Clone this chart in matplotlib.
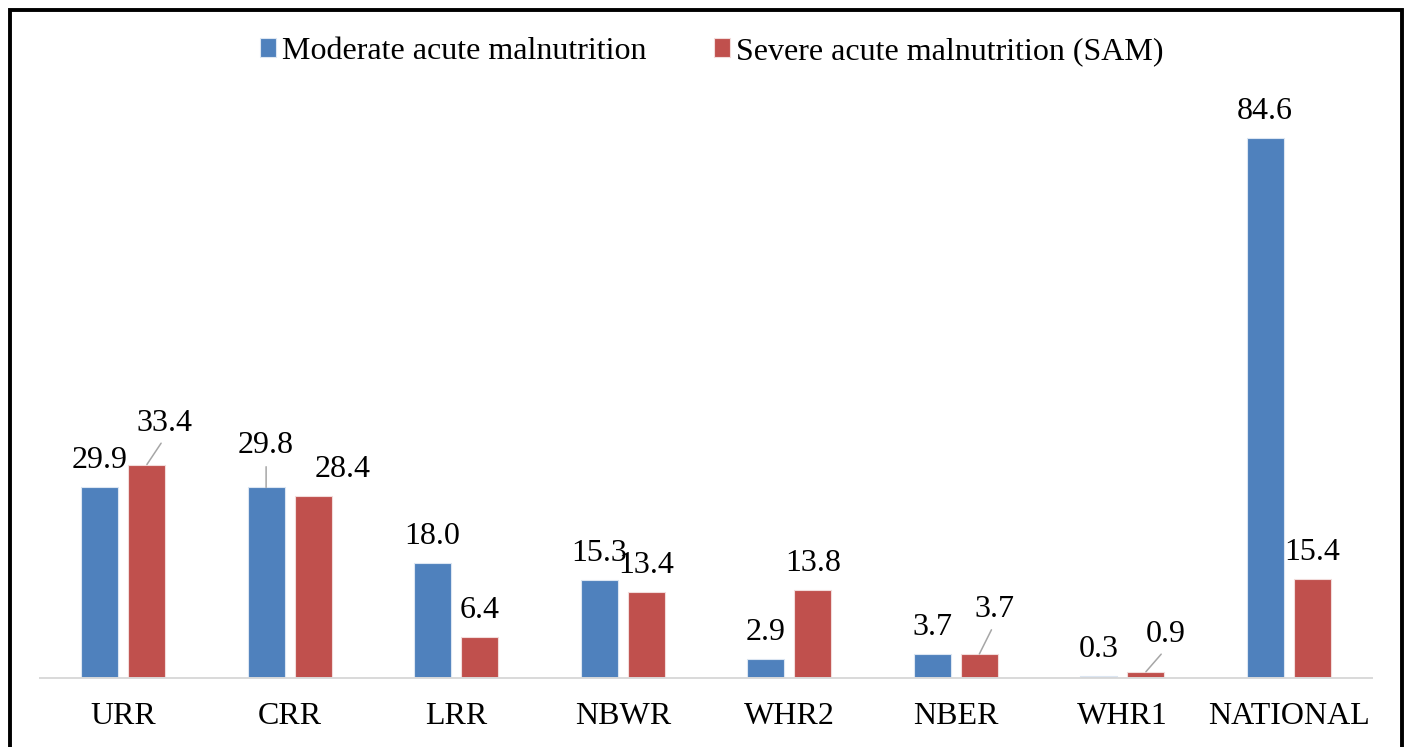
import numpy as np
import matplotlib.pyplot as plt
from matplotlib.patches import Rectangle

plt.rcParams['font.family'] = ['Liberation Serif', 'DejaVu Serif']

# Regions and prevalence values
regions = ['URR', 'CRR', 'LRR', 'NBWR', 'WHR2', 'NBER', 'WHR1', 'NATIONAL']
mam = [29.9, 29.8, 18.0, 15.3, 2.9, 3.7, 0.3, 84.6]
sam = [33.4, 28.4, 6.4, 13.4, 13.8, 3.7, 0.9, 15.4]
series_names = ['Moderate acute malnutrition', 'Severe acute malnutrition (SAM)']

# label nudges in pixels (dx, dy above bar top) and whether a leader line is drawn
mam_nudge = {1: (0, 34, True)}
sam_nudge = {0: (18, 34, True), 1: (29, 19, False), 5: (15, 37, True), 6: (20, 30, True)}

blue = '#4F81BD'
red = '#C0504D'
fs = 23

W, H = 1408, 747
fig = plt.figure(figsize=(W / 100, H / 100), dpi=100)
ax = fig.add_axes([40 / W, 69.5 / H, (1372 - 40) / W, 573.9 / H])

x = np.arange(len(regions))
bw = 0.222
off = 0.142
b1 = ax.bar(x - off, mam, bw, color=blue, edgecolor='#dce6f2', linewidth=0.8, label=series_names[0])
b2 = ax.bar(x + off, sam, bw, color=red, edgecolor='#f2dcdb', linewidth=0.8, label=series_names[1])

ax.set_xlim(-0.5, len(regions) - 0.5)
ax.set_ylim(0, 90)


def label(xpos, val, nudge):
    dx, dy, leader = nudge
    kw = {}
    if leader:
        kw['arrowprops'] = dict(arrowstyle='-', color='#a6a6a6', lw=1.1,
                                shrinkA=2.5, shrinkB=0, relpos=(0.5, 0))
    ax.annotate(f'{val:.1f}', xy=(xpos, val), xytext=(dx, dy),
                textcoords='offset pixels', ha='center', va='baseline',
                fontsize=fs, color='black', **kw)


for i in range(len(regions)):
    label(x[i] - off, mam[i], mam_nudge.get(i, (0, 19, False)))
    label(x[i] + off, sam[i], sam_nudge.get(i, (0, 19, False)))

for s in ['top', 'right', 'left']:
    ax.spines[s].set_visible(False)
ax.spines['bottom'].set_color('#d9d9d9')
ax.spines['bottom'].set_linewidth(1.4)
ax.set_yticks([])
ax.set_xticks(x)
ax.set_xticklabels(regions, fontsize=fs)
ax.tick_params(axis='x', length=0, pad=18)

fig.legend(handles=[b1, b2], loc='upper center', bbox_to_anchor=(711.5 / W, 1 - 24 / H),
           ncol=2, frameon=False, fontsize=fs, handlelength=0.5, handleheight=0.5,
           handletextpad=0.2, columnspacing=2.1, borderaxespad=0)

# outer frame
fig.add_artist(Rectangle((10 / W, -0.05), (1402 - 10) / W, 1.05 - 9.8 / H,
                         transform=fig.transFigure, fill=False,
                         edgecolor='black', linewidth=2.8, clip_on=False))

fig.savefig('out.png', dpi=100)
